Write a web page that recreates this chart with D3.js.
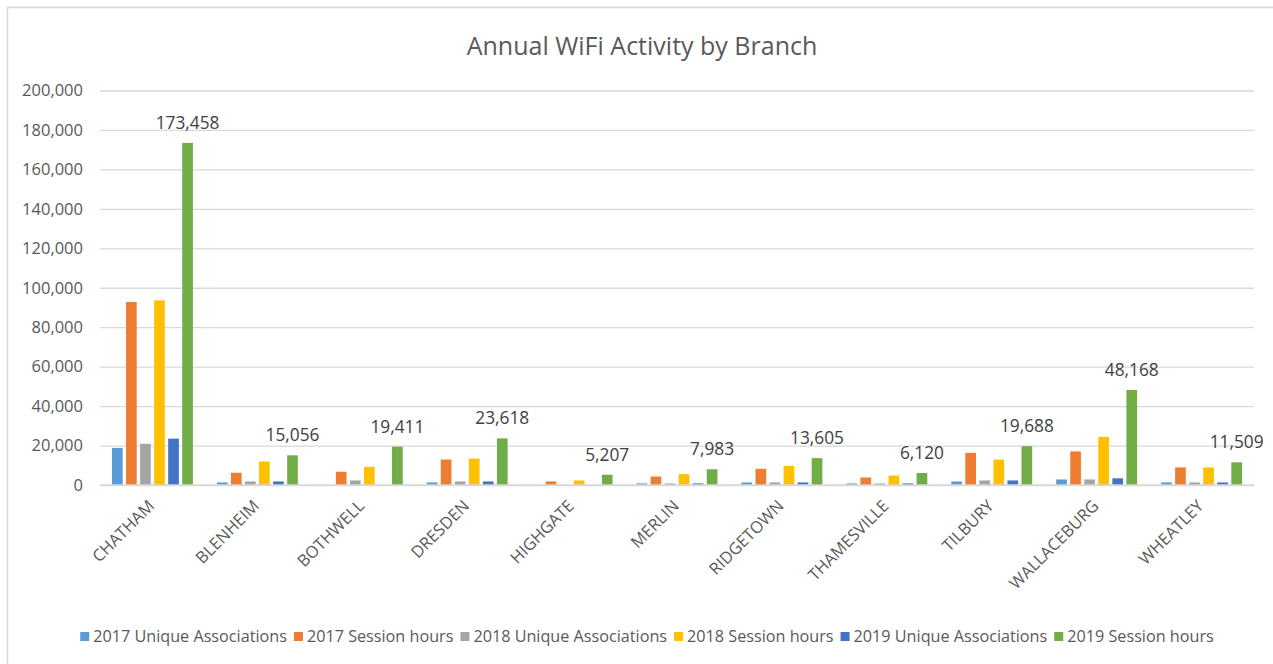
<!DOCTYPE html>
<html>
<head>
<meta charset="utf-8">
<script src="https://cdn.jsdelivr.net/npm/d3@7"></script>
<style>
  html, body { margin: 0; padding: 0; background: #fff; }
  svg { display: block; font-family: "Open Sans", "Liberation Sans", sans-serif; }
</style>
</head>
<body>
<svg id="chart" width="1273" height="664"></svg>
<script>
// Branch names along the category axis
const branches = ["CHATHAM", "BLENHEIM", "BOTHWELL", "DRESDEN", "HIGHGATE", "MERLIN",
  "RIDGETOWN", "THAMESVILLE", "TILBURY", "WALLACEBURG", "WHEATLEY"];

// Series names (legend order)
const seriesNames = ["2017 Unique Associations", "2017 Session hours",
  "2018 Unique Associations", "2018 Session hours",
  "2019 Unique Associations", "2019 Session hours"];

// Values per series, one entry per branch
const unique2017 = [18800, 1300, 0, 1300, 0, 800, 1300, 800, 1800, 2800, 1300];
const hours2017 = [92800, 6200, 6700, 12900, 1800, 4300, 8200, 3800, 16300, 17000, 8900];
const unique2018 = [20900, 1800, 2300, 1800, 0, 800, 1300, 800, 2300, 2800, 1300];
const hours2018 = [93600, 11900, 9200, 13400, 2300, 5500, 9700, 4800, 12900, 24400, 8900];
const unique2019 = [23500, 1800, 0, 1800, 0, 800, 1300, 800, 2300, 3400, 1300];
const hours2019 = [173458, 15056, 19411, 23618, 5207, 7983, 13605, 6120, 19688, 48168, 11509];

// Y axis tick values
const yTicks = [0, 20000, 40000, 60000, 80000, 100000, 120000, 140000, 160000, 180000, 200000];

const seriesColors = ["#5B9BD5", "#ED7D31", "#A5A5A5", "#FFC000", "#4472C4", "#70AD47"];
const seriesValues = [unique2017, hours2017, unique2018, hours2018, unique2019, hours2019];

const rows = branches.map((b, i) => ({
  branch: b,
  values: seriesNames.map((s, k) => ({ series: s, value: seriesValues[k][i] }))
}));

const svg = d3.select("#chart");
const textColor = "#595959";
const gridColor = "#D9D9D9";

// Outer chart frame
svg.append("rect")
  .attr("x", 7.5).attr("y", 7.5)
  .attr("width", 1270).attr("height", 660)
  .attr("fill", "#fff")
  .attr("stroke", gridColor).attr("stroke-width", 1.5);

const plotLeft = 100, plotRight = 1254;
const y = d3.scaleLinear().domain([0, 200000]).range([485, 90.5]);
const x0 = d3.scaleBand().domain(branches).range([plotLeft, plotRight]).padding(0);
const x1 = d3.scaleBand().domain(seriesNames)
  .range([12, x0.bandwidth() - 12]).paddingInner(0.24).paddingOuter(0);

// Title
svg.append("text")
  .attr("x", 642).attr("y", 55)
  .attr("text-anchor", "middle")
  .attr("font-size", 25)
  .attr("fill", textColor)
  .text("Annual WiFi Activity by Branch");

// Gridlines and value axis
const yAxis = d3.axisLeft(y)
  .tickValues(yTicks)
  .tickSize(-(plotRight - plotLeft))
  .tickPadding(17)
  .tickFormat(d3.format(","));

const gY = svg.append("g")
  .attr("transform", `translate(${plotLeft},0)`)
  .call(yAxis);
gY.select(".domain").remove();
gY.selectAll(".tick line").attr("stroke", gridColor).attr("stroke-width", 1.3);
gY.selectAll(".tick text")
  .attr("fill", textColor)
  .attr("font-size", 16.5)
  .attr("font-family", "Open Sans, sans-serif");

// Bars
const groups = svg.append("g").selectAll("g")
  .data(rows)
  .join("g")
  .attr("transform", d => `translate(${x0(d.branch)},0)`);

groups.selectAll("rect")
  .data(d => d.values.filter(v => v.value > 0))
  .join("rect")
  .attr("x", d => x1(d.series))
  .attr("width", x1.bandwidth())
  .attr("y", d => y(d.value))
  .attr("height", d => y(0) - y(d.value))
  .attr("fill", d => seriesColors[seriesNames.indexOf(d.series)]);

// Data labels on the 2019 session hours series
groups.append("text")
  .attr("x", d => x1(seriesNames[5]) + x1.bandwidth() / 2)
  .attr("y", d => y(d.values[5].value) - 14)
  .attr("text-anchor", "middle")
  .attr("font-size", 17.3)
  .attr("fill", "#404040")
  .text(d => d3.format(",")(d.values[5].value));

// Category axis line
svg.append("line")
  .attr("x1", plotLeft).attr("x2", plotRight)
  .attr("y1", y(0)).attr("y2", y(0))
  .attr("stroke", gridColor).attr("stroke-width", 1.3);

// Rotated category labels
svg.append("g").selectAll("text")
  .data(branches)
  .join("text")
  .attr("transform", d => `translate(${x0(d) + x0.bandwidth() / 2 + 3},${y(0) + 22}) rotate(-45)`)
  .attr("text-anchor", "end")
  .attr("font-size", 16.5)
  .attr("fill", textColor)
  .text(d => d);

// Legend
const legend = svg.append("g");
let cursor = 0;
seriesNames.forEach((name, k) => {
  const item = legend.append("g").attr("transform", `translate(${cursor},0)`);
  item.append("rect")
    .attr("x", 0).attr("y", -10)
    .attr("width", 9).attr("height", 9)
    .attr("fill", seriesColors[k]);
  const t = item.append("text")
    .attr("x", 13).attr("y", 0)
    .attr("font-size", 16.2)
    .attr("fill", textColor)
    .text(name);
  cursor += 13 + t.node().getComputedTextLength() + 7;
});
const legendWidth = cursor - 7;
legend.attr("transform", `translate(${647 - legendWidth / 2},642)`);
</script>
</body>
</html>
